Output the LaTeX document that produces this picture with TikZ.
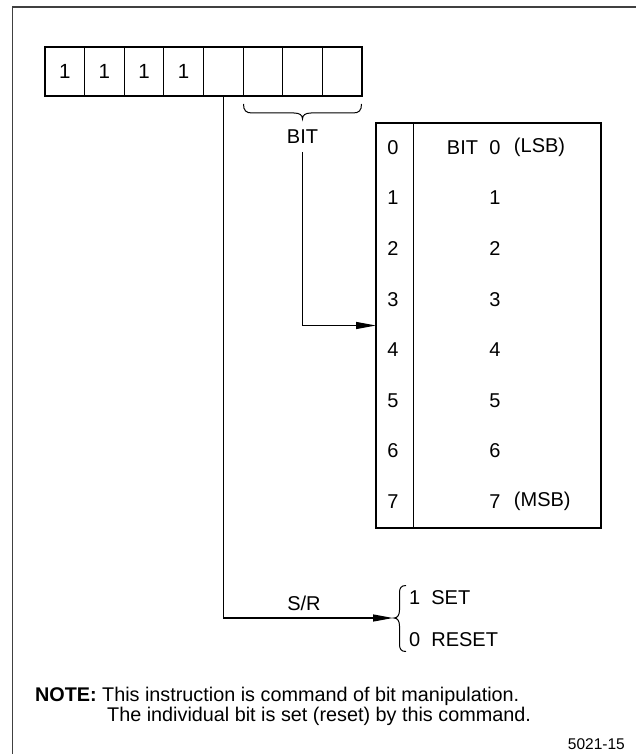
\documentclass[tikz,border=0pt]{standalone}
\usepackage{fontspec}
\setmainfont{Liberation Sans}
\usetikzlibrary{arrows.meta}
\tikzset{
  lbl/.style={font=\fontsize{20}{22}\selectfont, inner sep=0pt},
  notetxt/.style={font=\fontsize{19.8}{21}\selectfont, inner sep=0pt, anchor=base west},
  cellbox/.style={draw, line width=0.8pt, minimum width=39.625pt, minimum height=49pt, inner sep=0pt, font=\fontsize{20.5}{22}\selectfont},
  thickbox/.style={draw, line width=2.6pt},
  wire/.style={line width=1.2pt},
  arrowwire/.style={line width=1.2pt, -{Triangle[length=20pt,width=7pt]}},
  bracestyle/.style={line width=1pt},
}
\begin{document}
\begin{tikzpicture}[x=1pt,y=-1pt]
\useasboundingbox (0,0) rectangle (636,754);
% outer frame (only top and left edges visible)
\draw[line width=1.6pt, black!75] (12.5,760) -- (12.5,6.8) -- (640,6.8);

% register cells
\foreach \i/\t in {1/1,2/1,3/1,4/1,5/,6/,7/,8/} {
  \node[cellbox] (c\i) at ({45+39.625*(\i-0.5)},71.5) {\t};
}
\draw[thickbox] (45,47) rectangle (362,96);

% BIT brace
\draw[bracestyle] (243.5,104) .. controls (243.5,110.5) and (246,113) .. (252,113) -- (294,113)
  .. controls (299.5,113) and (302.5,115) .. (302.5,119)
  .. controls (302.5,115) and (305.5,113) .. (311,113) -- (353,113)
  .. controls (359,113) and (361.5,110.5) .. (361.5,104);
\node[lbl] (bitlbl) at (302.5,137) {BIT};

% bit table
\draw[thickbox] (376,123) rectangle (601,528);
\draw[line width=0.8pt] (413,123) -- (413,528);
\foreach \k in {0,...,7} {
  \node[lbl] (n\k) at (393,{122+50.625*(\k+0.5)}) {\k};
}
\node[lbl] (v0) at (495,{122+50.625*0.5}) {0};
\node[lbl, anchor=east] (v0a) at ([xshift=-11pt]v0.west) {BIT};
\node[lbl, anchor=west] (v0b) at ([xshift=13pt]v0.east) {(LSB)};
\foreach \k in {1,...,6} {
  \node[lbl] (v\k) at (495,{122+50.625*(\k+0.5)}) {\k};
}
\node[lbl] (v7) at (495,{122+50.625*7.5}) {7};
\node[lbl, anchor=west] (v7b) at ([xshift=13pt]v7.east) {(MSB)};

% connectors
\coordinate (bitstart) at (302.5,152);
\coordinate (tblin) at (376,325.5);
\draw[arrowwire] (bitstart) |- (tblin);

\coordinate (srtip) at (393,618);
\draw[arrowwire] (c5.south) |- (srtip);
\node[lbl] (srlbl) at (304,603) {S/R};

% S/R brace
\draw[bracestyle] (406,585.5) .. controls (401,585.5) and (399.5,588) .. (399.5,593) -- (399.5,610)
  .. controls (399.5,615) and (397.5,618) .. (394,618)
  .. controls (397.5,618) and (399.5,621) .. (399.5,626) -- (399.5,644)
  .. controls (399.5,649) and (401,651.5) .. (406,651.5);
\node[lbl, anchor=west] (set) at (409,598) {1\hspace{0.55em}SET};
\node[lbl, anchor=west] (reset) at (409,640) {0\hspace{0.55em}RESET};

% note
\node[notetxt] (notehead) at (35,701.5) {\bfseries NOTE:};
\node[notetxt] (note1) at (102,701.5) {This instruction is command of bit manipulation.};
\node[notetxt] (note2) at (107,721) {The individual bit is set (reset) by this command.};
\node[font=\fontsize{15.5}{17}\selectfont, inner sep=0pt, anchor=base east] (figno) at (625,749) {5021-15};
\end{tikzpicture}
\end{document}
